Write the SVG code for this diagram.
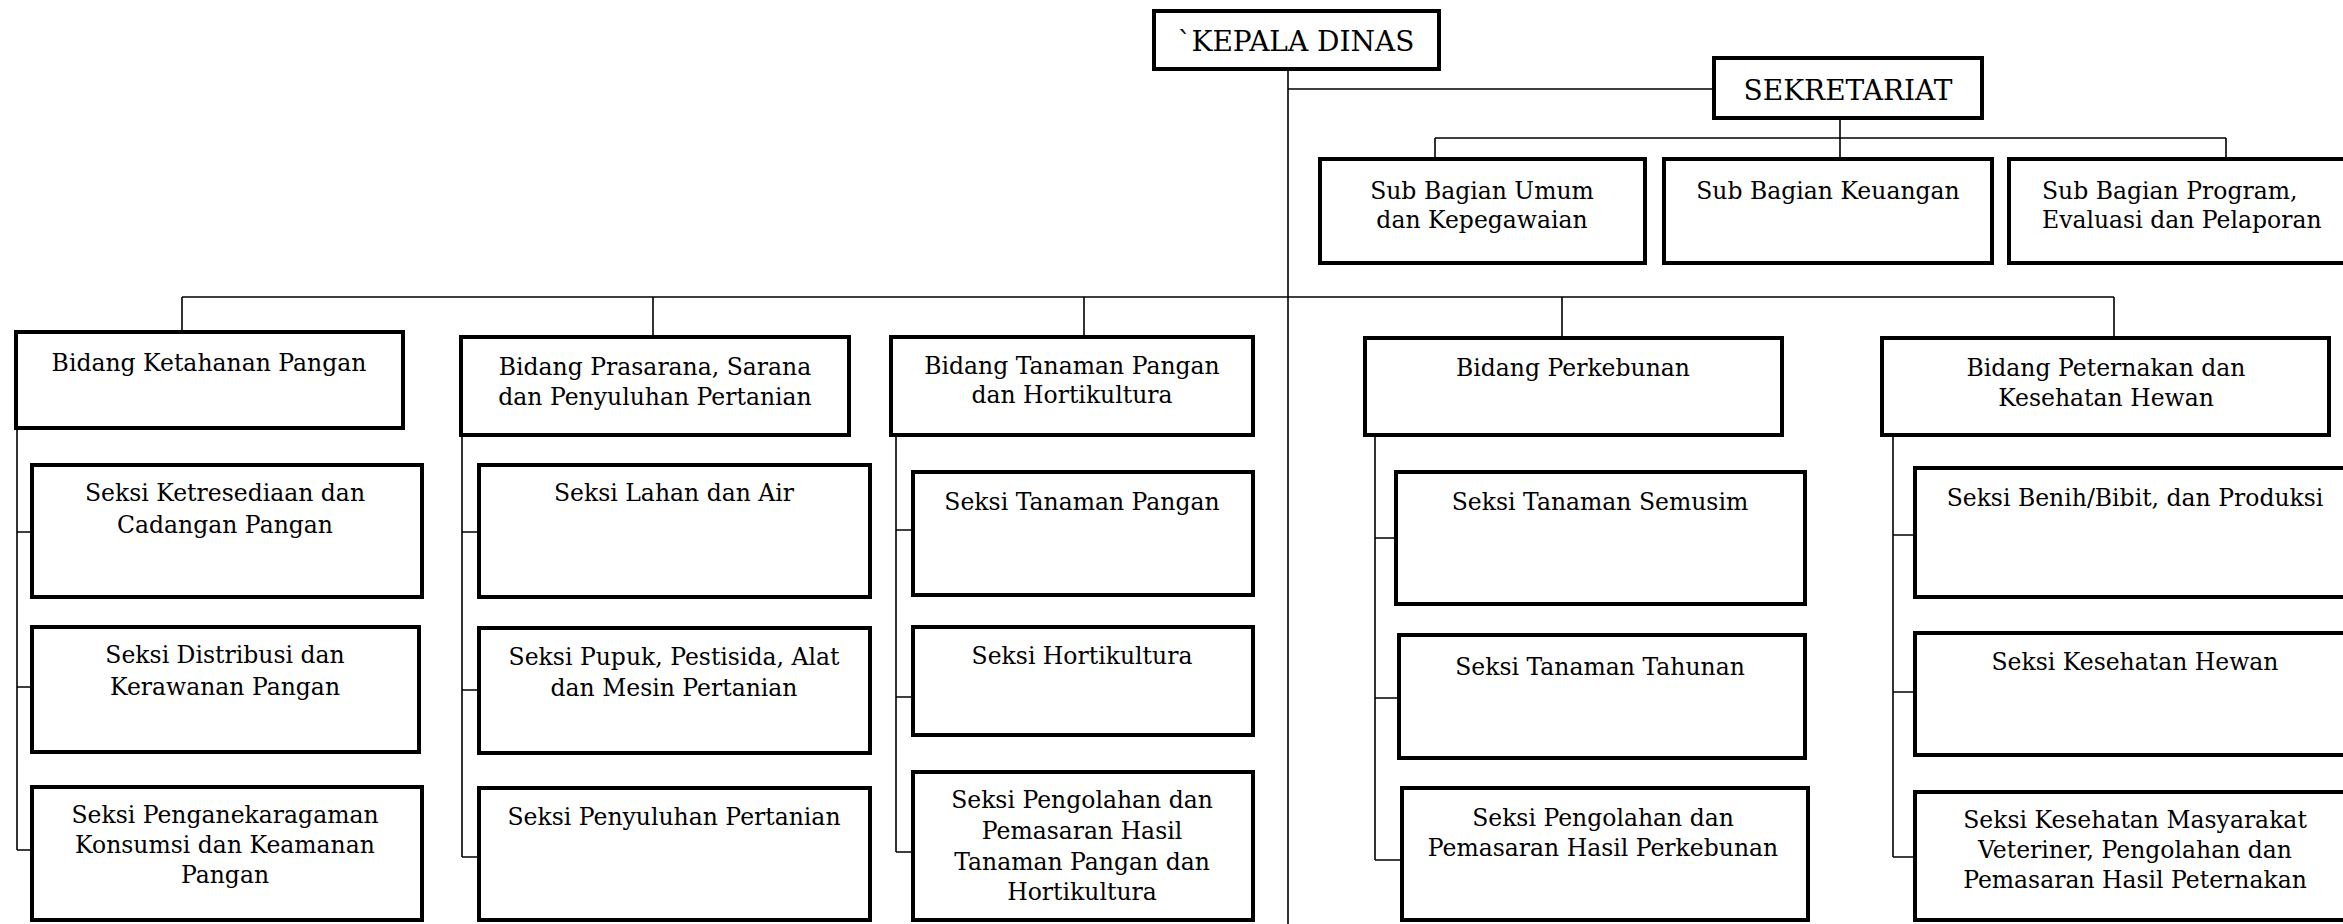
<svg xmlns="http://www.w3.org/2000/svg" width="2343" height="924" viewBox="0 0 2343 924">
<style>
.b{fill:#fff;stroke:#000;stroke-width:4}
.t{font-family:"DejaVu Serif","Liberation Serif",serif;font-size:23.5px;fill:#000;text-anchor:middle}
.h{font-family:"DejaVu Serif","Liberation Serif",serif;font-size:28px;fill:#000;text-anchor:middle}
.c{stroke:#000;stroke-width:1.6;fill:none}
</style>
<rect width="2343" height="924" fill="#fff"/>
<g id="connectors" class="c">
<path d="M1288 69V924M1288 89H1714"/>
<path d="M1840 118V159M1435 138H2226M1435 138V159M2226 138V159"/>
<path d="M182 297H2114M182 297V332M653 297V337M1084 297V337M1562 297V338M2114 297V338"/>
<path d="M17 428V850M17 532H32M17 687H32M17 850H32"/>
<path d="M462 435V857M462 532H479M462 690H479M462 857H479"/>
<path d="M896 435V852M896 530H913M896 697H913M896 852H913"/>
<path d="M1375 435V860M1375 538H1396M1375 698H1399M1375 860H1402"/>
<path d="M1893 435V857M1893 535H1915M1893 692H1915M1893 857H1915"/>
</g>
<g id="kepala"><rect class="b" x="1154" y="11" width="285" height="58"/><text class="h" x="1296" y="51">`KEPALA DINAS</text></g>
<g id="sekretariat"><rect class="b" x="1714" y="58" width="268" height="60"/><text class="h" x="1848" y="100">SEKRETARIAT</text></g>
<g id="sb-umum"><rect class="b" x="1320" y="159" width="325" height="104"/><text class="t" x="1482" y="199">Sub Bagian Umum</text><text class="t" x="1482" y="228">dan Kepegawaian</text></g>
<g id="sb-keuangan"><rect class="b" x="1664" y="159" width="328" height="104"/><text class="t" x="1828" y="199">Sub Bagian Keuangan</text></g>
<g id="sb-program"><rect class="b" x="2009" y="159" width="345" height="104"/><text class="t" x="2042" y="199" style="text-anchor:start">Sub Bagian Program,</text><text class="t" x="2042" y="228" style="text-anchor:start">Evaluasi dan Pelaporan</text></g>

<g id="bidang-ketahanan"><rect class="b" x="16" y="332" width="387" height="96"/><text class="t" x="209" y="371">Bidang Ketahanan Pangan</text></g>
<g id="bidang-prasarana"><rect class="b" x="461" y="337" width="388" height="98"/><text class="t" x="655" y="375">Bidang Prasarana, Sarana</text><text class="t" x="655" y="405">dan Penyuluhan Pertanian</text></g>
<g id="bidang-tanaman"><rect class="b" x="891" y="337" width="362" height="98"/><text class="t" x="1072" y="374">Bidang Tanaman Pangan</text><text class="t" x="1072" y="403">dan Hortikultura</text></g>
<g id="bidang-perkebunan"><rect class="b" x="1365" y="338" width="417" height="97"/><text class="t" x="1573" y="376">Bidang Perkebunan</text></g>
<g id="bidang-peternakan"><rect class="b" x="1882" y="338" width="447" height="97"/><text class="t" x="2106" y="376">Bidang Peternakan dan</text><text class="t" x="2106" y="406">Kesehatan Hewan</text></g>

<g id="s-ketresediaan"><rect class="b" x="32" y="465" width="390" height="132"/><text class="t" x="225" y="501">Seksi Ketresediaan dan</text><text class="t" x="225" y="533">Cadangan Pangan</text></g>
<g id="s-distribusi"><rect class="b" x="32" y="627" width="387" height="125"/><text class="t" x="225" y="663">Seksi Distribusi dan</text><text class="t" x="225" y="695">Kerawanan Pangan</text></g>
<g id="s-penganekaragaman"><rect class="b" x="32" y="787" width="390" height="133"/><text class="t" x="225" y="823">Seksi Penganekaragaman</text><text class="t" x="225" y="853">Konsumsi dan Keamanan</text><text class="t" x="225" y="883">Pangan</text></g>

<g id="s-lahan"><rect class="b" x="479" y="465" width="391" height="132"/><text class="t" x="674" y="501">Seksi Lahan dan Air</text></g>
<g id="s-pupuk"><rect class="b" x="479" y="628" width="391" height="125"/><text class="t" x="674" y="665">Seksi Pupuk, Pestisida, Alat</text><text class="t" x="674" y="696">dan Mesin Pertanian</text></g>
<g id="s-penyuluhan"><rect class="b" x="479" y="788" width="391" height="132"/><text class="t" x="674" y="825">Seksi Penyuluhan Pertanian</text></g>

<g id="s-tanaman-pangan"><rect class="b" x="913" y="472" width="340" height="123"/><text class="t" x="1082" y="510">Seksi Tanaman Pangan</text></g>
<g id="s-hortikultura"><rect class="b" x="913" y="627" width="340" height="108"/><text class="t" x="1082" y="664">Seksi Hortikultura</text></g>
<g id="s-pengolahan-tph"><rect class="b" x="913" y="772" width="340" height="148"/><text class="t" x="1082" y="808">Seksi Pengolahan dan</text><text class="t" x="1082" y="839">Pemasaran Hasil</text><text class="t" x="1082" y="870">Tanaman Pangan dan</text><text class="t" x="1082" y="900">Hortikultura</text></g>

<g id="s-semusim"><rect class="b" x="1396" y="472" width="409" height="132"/><text class="t" x="1600" y="510">Seksi Tanaman Semusim</text></g>
<g id="s-tahunan"><rect class="b" x="1399" y="635" width="406" height="123"/><text class="t" x="1600" y="675">Seksi Tanaman Tahunan</text></g>
<g id="s-pengolahan-kebun"><rect class="b" x="1402" y="788" width="406" height="132"/><text class="t" x="1603" y="826">Seksi Pengolahan dan</text><text class="t" x="1603" y="856">Pemasaran Hasil Perkebunan</text></g>

<g id="s-benih"><rect class="b" x="1915" y="468" width="440" height="129"/><text class="t" x="2135" y="506">Seksi Benih/Bibit, dan Produksi</text></g>
<g id="s-keswan"><rect class="b" x="1915" y="633" width="440" height="122"/><text class="t" x="2135" y="670">Seksi Kesehatan Hewan</text></g>
<g id="s-kesmavet"><rect class="b" x="1915" y="792" width="440" height="128"/><text class="t" x="2135" y="828">Seksi Kesehatan Masyarakat</text><text class="t" x="2135" y="858">Veteriner, Pengolahan dan</text><text class="t" x="2135" y="888">Pemasaran Hasil Peternakan</text></g>
</svg>
